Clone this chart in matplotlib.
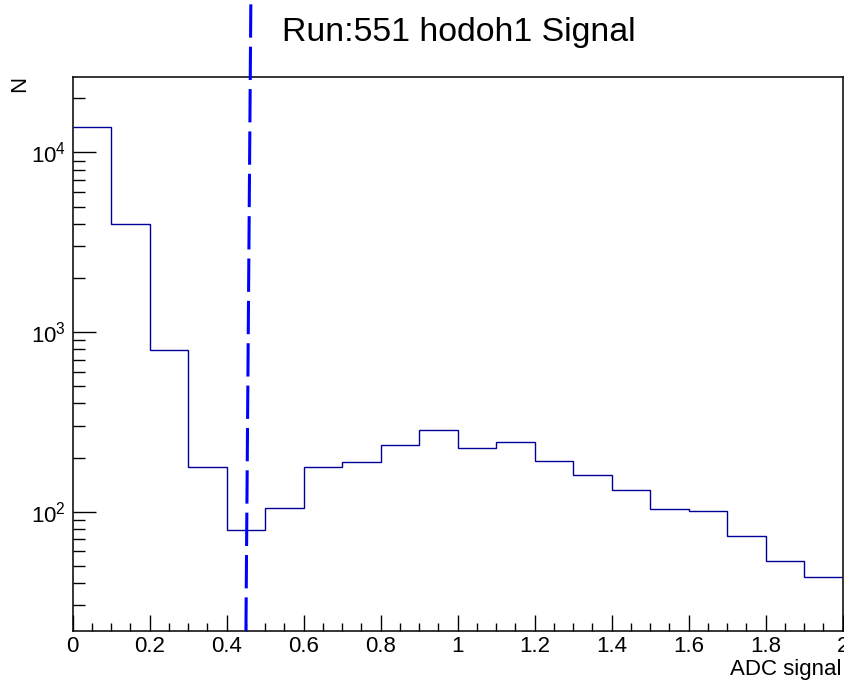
import numpy as np
import matplotlib
matplotlib.use("Agg")
import matplotlib.pyplot as plt
from matplotlib.ticker import LogLocator, MultipleLocator, FixedLocator, NullFormatter

plt.rcParams["font.family"] = ["Liberation Sans", "DejaVu Sans"]
plt.rcParams["mathtext.default"] = "regular"
plt.rcParams["lines.scale_dashes"] = False

# ── Data ──────────────────────────────────────────────────────────────────────
BIN_EDGES = np.round(np.arange(0, 2.01, 0.1), 2)
COUNTS = [13840, 4010, 796, 176, 79, 105, 176, 188, 234, 284,
          225, 243, 191, 159, 132, 103, 101, 73, 53, 43]
CUT_X = [0.450, 0.463]          # dashed cut line (slightly tilted in the original)
CUT_Y = [21.7, 80000]
TITLE = "Run:551 hodoh1 Signal"
XLABEL = "ADC signal"
YLABEL = "N"
X_RANGE = (0, 2)
Y_RANGE = (21.7, 26200)
HIST_COLOR = "#000099"
CUT_COLOR = "#0000ff"

# ── Figure ────────────────────────────────────────────────────────────────────
fig = plt.figure(figsize=(8.44, 6.82), dpi=100)
ax = fig.add_axes([0.0861, 0.0752, 0.9124, 0.8114])

ax.stairs(COUNTS, BIN_EDGES, baseline=None, color=HIST_COLOR, linewidth=1.0)
ax.plot(CUT_X, CUT_Y, color=CUT_COLOR, linewidth=2.2, linestyle=(0, (24, 6.5)),
        clip_on=False, zorder=5)

ax.set_yscale("log")
ax.set_xlim(*X_RANGE)
ax.set_ylim(*Y_RANGE)

ax.xaxis.set_major_locator(MultipleLocator(0.2))
ax.xaxis.set_minor_locator(MultipleLocator(0.05))
ax.xaxis.set_major_formatter(plt.FuncFormatter(lambda v, p: f"{v:g}"))
ax.yaxis.set_major_locator(FixedLocator([1e2, 1e3, 1e4]))
ax.yaxis.set_major_formatter(plt.FuncFormatter(lambda v, p: rf"$10^{{{int(round(np.log10(v)))}}}$"))
ax.yaxis.set_minor_locator(LogLocator(base=10, subs=np.arange(2, 10), numticks=20))
ax.yaxis.set_minor_formatter(NullFormatter())

ax.tick_params(axis="both", which="both", direction="in", top=False, right=False,
               labelsize=16, width=1.0, color="black")
ax.tick_params(axis="x", which="major", length=11.5, pad=4)
ax.tick_params(axis="x", which="minor", length=6)
ax.tick_params(axis="y", which="major", length=16.5, pad=5)
ax.tick_params(axis="y", which="minor", length=8.5)
for s in ax.spines.values():
    s.set_linewidth(1.1)

fig.text(842 / 844, 1 - 669 / 682, XLABEL, ha="right", va="center", fontsize=16)
fig.text(20 / 844, 1 - 84 / 682, YLABEL, ha="center", va="center", fontsize=16, rotation=90)
fig.text(459 / 844, 1 - 33 / 682, TITLE, ha="center", va="center", fontsize=24.4)

fig.savefig("out.png", dpi=100)
